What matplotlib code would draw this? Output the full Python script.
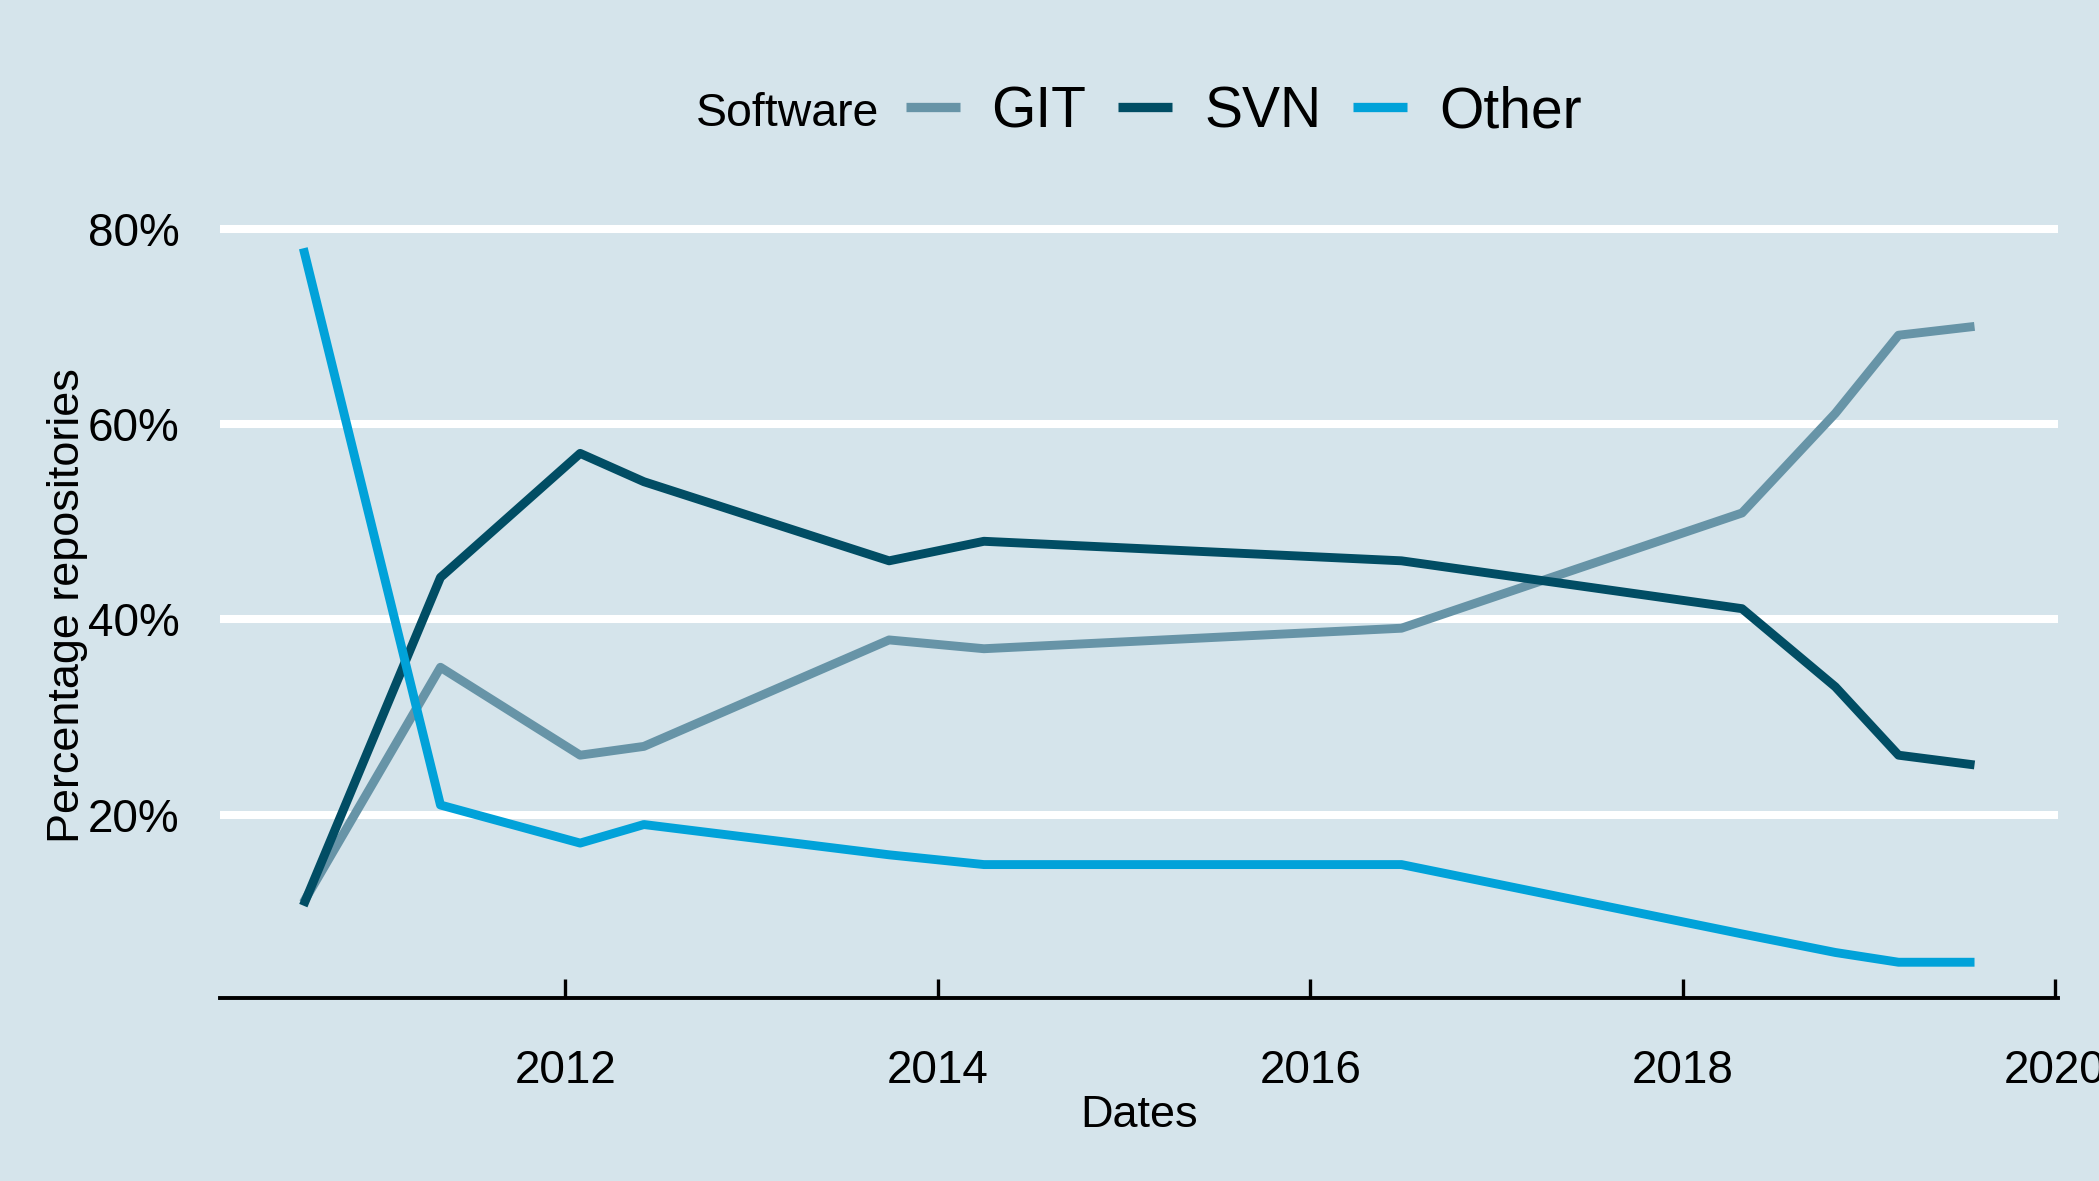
import pandas as pd
import matplotlib
matplotlib.use('Agg')
import matplotlib.pyplot as plt
import matplotlib.dates as mdates
from matplotlib.ticker import FuncFormatter, FixedLocator
from matplotlib.lines import Line2D


DATES = ['2010-08-05', '2011-05-01', '2012-01-30', '2012-06-03', '2013-09-27',
         '2014-04-01', '2016-06-28', '2018-04-27', '2018-10-27', '2019-02-28',
         '2019-07-27']
GIT = [11.0, 35.1, 26.1, 27.0, 37.9, 37.0, 39.1, 50.9, 61.1, 69.1, 70.0]
SVN = [10.7, 44.3, 57.0, 54.1, 46.0, 48.0, 46.0, 41.1, 33.1, 26.1, 25.1]
OTHER = [78.0, 21.0, 17.1, 19.0, 15.9, 14.9, 14.9, 7.8, 5.9, 4.9, 4.9]

SERIES = ['GIT', 'SVN', 'Other']
COLORS = {'GIT': '#6794a7', 'SVN': '#014d64', 'Other': '#01a2d9'}
Y_TICKS = [20, 40, 60, 80]
X_TICK_YEARS = [2012, 2014, 2016, 2018, 2020]

BG = '#d5e4eb'
LW = 3.2

plt.rcParams['font.family'] = ['Liberation Sans', 'DejaVu Sans']


def expand(lo, hi, frac=0.05):
    """ggplot style 5% padding on a continuous range"""
    pad = (hi - lo) * frac
    return lo - pad, hi + pad


data = pd.DataFrame({'date': pd.to_datetime(DATES), 'GIT': GIT, 'SVN': SVN,
                     'Other': OTHER})

fig = plt.figure(figsize=(10.495, 5.905), dpi=200, facecolor=BG)
ax = fig.add_axes([0.1047, 0.155, 0.8758, 0.665])
ax.set_facecolor(BG)

for name in SERIES:
    ax.plot(data['date'], data[name], color=COLORS[name], lw=LW,
            solid_capstyle='butt', solid_joinstyle='round', zorder=3)

# limits with 5% padding, like the original
xnum = mdates.date2num(data['date'])
ax.set_xlim(*expand(xnum.min(), xnum.max()))
vals = data[SERIES].values
ax.set_ylim(*expand(vals.min(), vals.max()))

ax.xaxis.set_major_locator(FixedLocator(
    mdates.date2num(pd.to_datetime([f'{y}-01-01' for y in X_TICK_YEARS]))))
ax.xaxis.set_major_formatter(mdates.DateFormatter('%Y'))
ax.yaxis.set_major_locator(FixedLocator(Y_TICKS))
ax.yaxis.set_major_formatter(FuncFormatter(lambda v, pos: f'{v:.0f}%'))

ax.yaxis.grid(True, color='white', lw=2.9, zorder=1)
ax.set_axisbelow(True)
for side in ['top', 'right', 'left']:
    ax.spines[side].set_visible(False)
ax.spines['bottom'].set_color('black')
ax.spines['bottom'].set_linewidth(1.4)

ax.tick_params(axis='x', direction='in', length=6.8, width=1.2, pad=18.5,
               labelsize=16.5, colors='black')
ax.tick_params(axis='y', length=0, pad=14.5, labelsize=16.5)

ax.set_xlabel('Dates', fontsize=16.2, labelpad=0.5)
ax.set_ylabel('Percentage repositories', fontsize=16.2, labelpad=0)

# legend on top: title on the left, entries in a row
fig.text(0.3314, 0.8937, 'Software', fontsize=16.7, va='baseline', ha='left')
handles = [Line2D([], [], color=COLORS[n], lw=3.35, solid_capstyle='butt')
           for n in SERIES]
fig.legend(handles, SERIES, loc='center left', bbox_to_anchor=(0.4314, 0.905),
           ncol=3, frameon=False, fontsize=20.5, handlelength=0.95,
           handletextpad=0.56, columnspacing=0.56, borderpad=0,
           borderaxespad=0)

fig.savefig('out.png', dpi=200, facecolor=BG)
